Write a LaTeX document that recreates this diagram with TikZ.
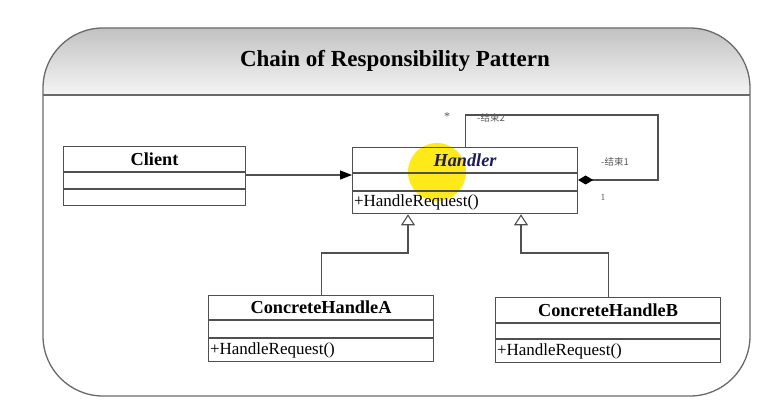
\documentclass[tikz,border=0pt]{standalone}
\usepackage{fontspec}
\setmainfont{Liberation Serif}
\newfontfamily\cjk{Noto Sans CJK SC}
\usetikzlibrary{arrows.meta,calc}
\definecolor{linec}{HTML}{505050}
\definecolor{framec}{HTML}{6A6A6A}
\definecolor{navy}{HTML}{1C1C5A}
\begin{document}
\begin{tikzpicture}[x=1pt,y=-1pt,
  comp/.style={draw=linec,line width=1.1pt,fill=white,minimum width=225pt,inner sep=0pt,anchor=north west,font=\fontsize{16}{16}\selectfont},
  namebox/.style={comp,minimum height=25pt,font=\fontsize{18.3}{18.3}\selectfont\bfseries},
  attrbox/.style={comp,minimum height=16pt},
  opbox/.style={comp,minimum height=22pt,text width=222pt,align=left,font=\fontsize{17}{17}\selectfont},
  conn/.style={draw=linec,line width=1.1pt},
  lbl/.style={font=\fontsize{9.5}{9.5}\selectfont,text=gray!70!black,inner sep=0pt}]
\useasboundingbox (0,0) rectangle (769,401);
\fill[white] (0,0) rectangle (769,401);
% frame
\begin{scope}
\clip[rounded corners=60pt] (43,28) rectangle (750,396);
\shade[top color=black!24,bottom color=black!4] (43,28) rectangle (750,95);
\end{scope}
\draw[framec,line width=1.3pt,rounded corners=60pt] (43,28) rectangle (750,396);
\draw[framec,line width=1.3pt] (43,95) -- (750,95);
\node[font=\fontsize{23}{23}\selectfont\bfseries] (title) at (395,61) {Chain of Responsibility Pattern};
% Client
\node[namebox,minimum width=182pt] (clientN) at (63,146) {Client};
\node[attrbox,minimum width=182pt] (clientA) at (clientN.south west) {};
\node[attrbox,minimum width=182pt] (clientM) at (clientA.south west) {};
% Handler (white ground, then highlight, then the class drawn over it)
\fill[white] (352,147) rectangle (577,211);
\fill[yellow!90!orange!90!white] (437,172) circle (29pt);
\node[namebox,fill=none,text=navy,font=\fontsize{18.3}{18.3}\selectfont\bfseries\itshape] (handlerN) at (352,147) {Handler};
\node[attrbox,fill=none,minimum height=17pt] (handlerA) at (handlerN.south west) {};
\node[opbox,fill=none] (handlerM) at (handlerA.south west) {+HandleRequest()};
% Concrete A
\node[namebox,minimum height=24pt] (aN) at (208,295) {ConcreteHandleA};
\node[attrbox,minimum height=17pt] (aA) at (aN.south west) {};
\node[opbox,minimum height=23pt] (aM) at (aA.south west) {+HandleRequest()};
% Concrete B
\node[namebox] (bN) at (495,297) {ConcreteHandleB};
\node[attrbox,minimum height=15pt] (bA) at (bN.south west) {};
\node[opbox,minimum height=23pt] (bM) at (bA.south west) {+HandleRequest()};
% association client -> handler
\coordinate (cStart) at (245,175);
\draw[conn,-{Triangle[length=12pt,width=9pt,color=black]}] (cStart) -- (cStart -| handlerA.west);
% self association
\coordinate (sTop) at (658,115);
\coordinate (sEnd) at (658,180);
\draw[conn,{Diamond[length=15pt,width=9pt,color=black]}-] (handlerA.east |- sEnd) -- (sEnd) -- (sTop) -- (sTop -| handlerN.north) -- (handlerN.north);
\node[lbl,font=\fontsize{12}{12}\selectfont] (star) at (447,117) {*};
\node[lbl,anchor=west] (e2) at (477,118) {\cjk -结束2};
\node[lbl,anchor=west] (e1) at (601,162) {\cjk -结束1};
\node[lbl] (one) at (603,197) {1};
% generalizations
\coordinate (gA) at (408,253);
\coordinate (gB) at (521,253);
\draw[conn,-{Triangle[open,length=11pt,width=14pt,fill=white]}] (aN.north) |- (gA) -- (gA |- handlerM.south);
\draw[conn,-{Triangle[open,length=11pt,width=14pt,fill=white]}] (bN.north) |- (gB) -- (gB |- handlerM.south);
\end{tikzpicture}
\end{document}
